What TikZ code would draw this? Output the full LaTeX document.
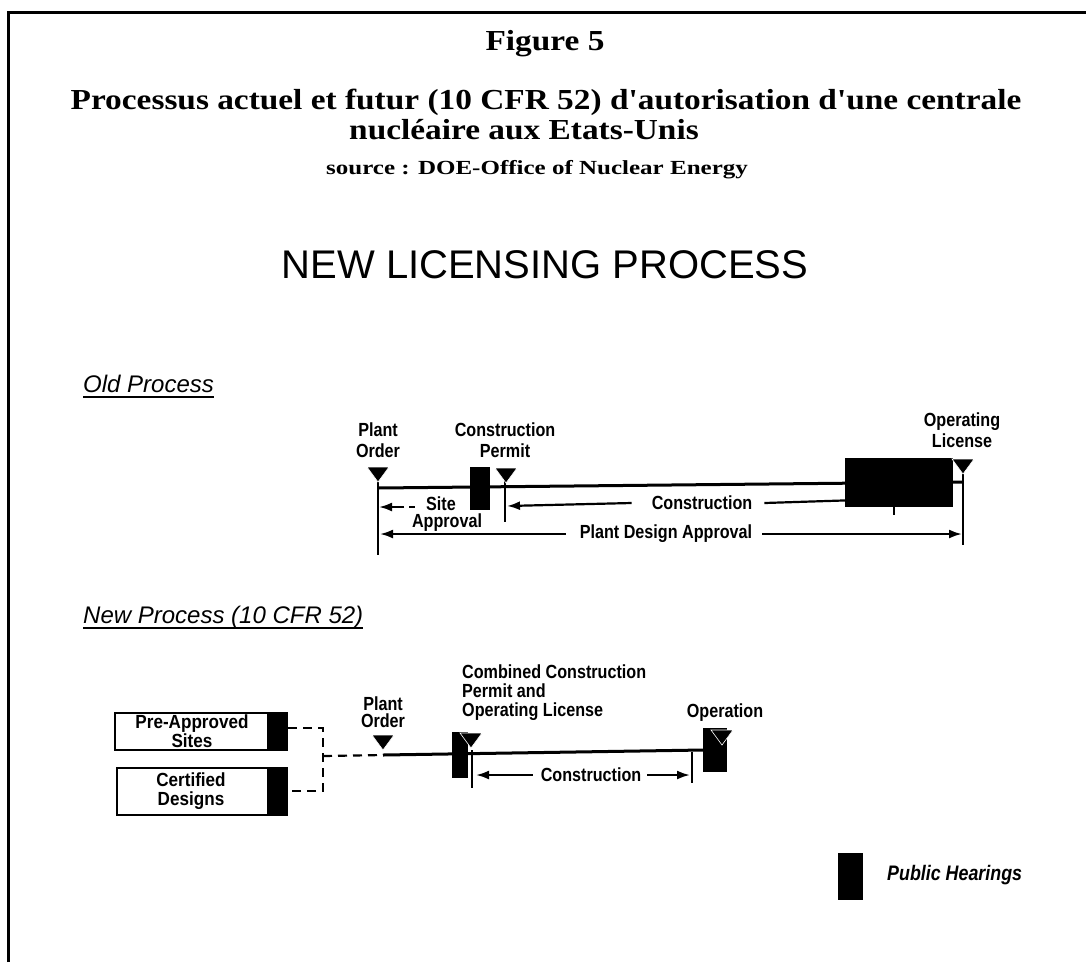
\documentclass[tikz,border=0pt]{standalone}
\usepackage{fontspec}
\setmainfont{Liberation Serif}
\newfontfamily\titfont[FakeStretch=1.15]{Liberation Serif}
\newfontfamily\srcfont[FakeStretch=1.25]{Liberation Serif}
\newfontfamily\hsans{Liberation Sans}
\newfontfamily\labfont[FakeStretch=0.85]{Liberation Sans}
\newfontfamily\boxfont[FakeStretch=0.9]{Liberation Sans}
\usetikzlibrary{arrows.meta,calc}
\begin{document}
\begin{tikzpicture}[x=1pt,y=-1pt,
  lab/.style={font=\labfont\bfseries\fontsize{19}{21}\selectfont, align=center, inner sep=0pt},
  boxlab/.style={font=\boxfont\bfseries\fontsize{19}{16}\selectfont, align=center, inner sep=0pt},
  hdr/.style={font=\hsans\itshape\fontsize{24}{26}\selectfont, inner sep=0pt, anchor=base west},
  hear/.style={fill=black, draw=none, inner sep=0pt},
  box/.style={draw=black, line width=2pt, inner sep=0pt},
  mainline/.style={line width=3pt},
  vbar/.style={line width=2.5pt},
  arr/.style={line width=2.2pt, -{Latex[length=13pt,width=9pt]}},
  dashln/.style={line width=2.2pt, dash pattern=on 9pt off 6pt},
  triang/.pic={\fill[draw=white, line width=0.6pt] (-11,-15) -- (11,-15) -- (0,0) -- cycle;}
]
\useasboundingbox (0,0) rectangle (1086,962);
% frame
\draw[line width=3pt] (8,962) -- (8,12) -- (1086,12);

% titles
\node[font=\titfont\bfseries\fontsize{29}{30}\selectfont, anchor=base, inner sep=0] (fig) at (545,50) {Figure 5};
\node[font=\titfont\bfseries\fontsize{29}{30}\selectfont, anchor=base, inner sep=0] (t1) at (546,109) {Processus actuel et futur (10 CFR 52) d'autorisation d'une centrale};
\node[font=\titfont\bfseries\fontsize{29}{30}\selectfont, anchor=base, inner sep=0] (t2) at (524,139) {nucléaire aux Etats-Unis};
\node[font=\srcfont\bfseries\fontsize{20}{22}\selectfont, anchor=base, inner sep=0] (src) at (537,174) {source : DOE-Office of Nuclear Energy};
\node[font=\hsans\fontsize{40}{42}\selectfont, anchor=base, inner sep=0] (nlp) at (545,278) {NEW LICENSING PROCESS};

% ---------- Old process ----------
\node[hdr] (oldp) at (83,392) {Old Process};
\draw[line width=2pt] ([yshift=-5pt]oldp.base west) -- ([yshift=-5pt]oldp.base east);

\coordinate (po1) at (378,488);
\coordinate (ol1) at (963,482);
\coordinate (po1t) at (378,470);
\coordinate (po1b) at (378,555);
\coordinate (cp1t) at (505,470);
\coordinate (cp1b) at (505,522);
\coordinate (ol1t) at (963,462);
\coordinate (ol1b) at (963,545);

\node[lab] (pol) at (378,440) {Plant\\Order};
\node[lab] (cpl) at (505,440) {Construction\\Permit};
\node[lab] (oll) at (962,430) {Operating\\License};

% arrows
\coordinate (sa1) at (379,507);
\coordinate (sa2) at (404,507);
\draw[arr] (sa2) -- (sa1);
\draw[line width=2.2pt] (409,507) -- (415,507);
\node[lab] (sit) at (441,504) {Site};
\node[lab] (apv) at (447,523) {Approval};

\node[lab] (con1) at (702,503) {Construction};
\coordinate (c1l) at (507,506);
\coordinate (c1r) at (890,499);
\draw[arr] ([xshift=-20pt]con1.west) -- (c1l);
\draw[arr] ([xshift=12pt]con1.east) -- (c1r);
\draw[line width=2pt] (894,495) -- (894,515);

\node[lab] (pda) at (666,534) {Plant Design Approval};
\coordinate (pd1) at (380,534);
\coordinate (pd2) at (962,534);
\draw[arr] ([xshift=-14pt]pda.west) -- (pd1);
\draw[arr] ([xshift=10pt]pda.east) -- (pd2);

% main line and verticals
\draw[mainline] (po1) -- (ol1);
\draw[vbar] (po1t) -- (po1b);
\draw[vbar] (cp1t) -- (cp1b);
\draw[vbar] (ol1t) -- (ol1b);

% hearings
\node[hear, minimum width=20pt, minimum height=43pt] (h1) at (480,488) {};
\node[hear, minimum width=108pt, minimum height=49pt] (h2) at (899,482) {};

\pic at (378,482) {triang};
\pic at (506,483) {triang};
\pic at (963,474) {triang};

% ---------- New process ----------
\node[hdr] (newp) at (83,623) {New Process (10 CFR 52)};
\draw[line width=2pt] ([yshift=-5pt]newp.base west) -- ([yshift=-5pt]newp.base east);

\node[box, minimum width=172pt, minimum height=37pt] (pas) at (201,731.5) {};
\node[hear, minimum width=21pt, minimum height=37pt, anchor=east] (pash) at (pas.east) {};
\node[boxlab] (past) at (192,731) {Pre-Approved\\Sites};

\node[box, minimum width=170pt, minimum height=47pt] (cd) at (202,791.5) {};
\node[hear, minimum width=21pt, minimum height=47pt, anchor=east] (cdh) at (cd.east) {};
\node[boxlab] (cdt) at (191,791) {Certified\\[3pt]Designs};

\coordinate (j1) at (323,728);
\coordinate (j2) at (323,791);
\coordinate (jm) at (323,756);
\coordinate (po2) at (383,755);
\coordinate (op2) at (703,750);

\draw[dashln] (pas.east |- j1) -- (j1) -- (j2) -- (cd.east |- j2);
\draw[dashln] (jm) -- (po2);
\draw[mainline] (po2) -- (op2);

\node[lab] (pol2) at (383,712) {Plant\\[-4pt]Order};
\node[lab, align=left, anchor=west] (ccl) at (462,693) {Combined Construction\\[-2pt]Permit and\\[-2pt]Operating License};
\node[lab] (opl) at (725,713) {Operation};

% construction (new)
\node[lab] (con2) at (591,775) {Construction};
\coordinate (c2l) at (476,775);
\coordinate (c2r) at (690,775);
\draw[arr] ([xshift=-8pt]con2.west) -- (c2l);
\draw[arr] ([xshift=6pt]con2.east) -- (c2r);
\draw[vbar] (472,750) -- (472,788);
\draw[vbar] (692,752) -- (692,783);

\node[hear, minimum width=16pt, minimum height=46pt] (cch) at (460,755) {};
\node[hear, minimum width=24pt, minimum height=44pt] (oph) at (715,750) {};
\pic at (383,750) {triang};
\pic at (471,748) {triang};
\pic at (722,745) {triang};

% legend
\node[hear, minimum width=25pt, minimum height=47pt] (legh) at (850.5,876.5) {};
\node[font=\labfont\bfseries\itshape\fontsize{21}{22}\selectfont, anchor=west, inner sep=0pt] (legt) at (887,875) {Public Hearings};
\end{tikzpicture}
\end{document}
